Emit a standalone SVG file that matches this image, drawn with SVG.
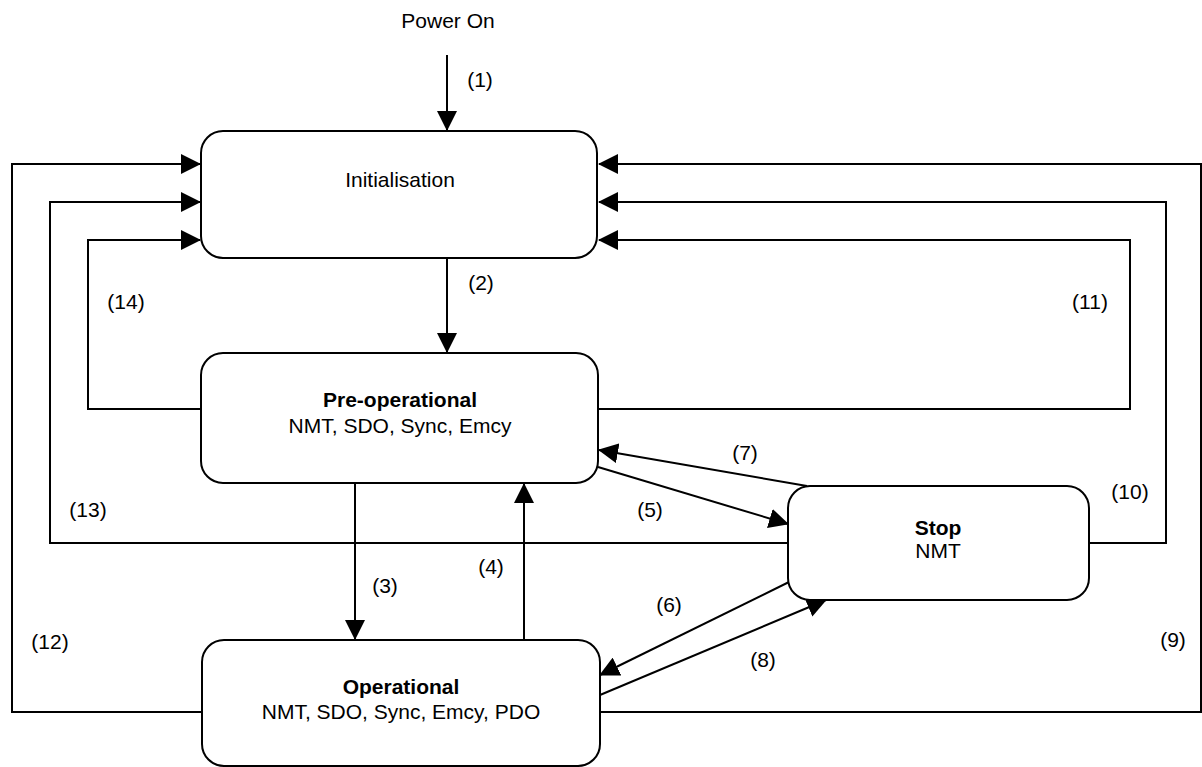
<svg xmlns="http://www.w3.org/2000/svg" width="1202" height="767" viewBox="0 0 1202 767">
<style>
.box{fill:#fff;stroke:#000;stroke-width:2}
.c{fill:none;stroke:#000;stroke-width:2}
text{font-family:"Liberation Sans",Arial,sans-serif;font-size:21px;fill:#000;text-anchor:middle}
.b{font-weight:bold}
</style>
<defs>
<marker id="a" markerUnits="userSpaceOnUse" markerWidth="20" markerHeight="20" viewBox="0 0 20 20" refX="19" refY="10" orient="auto">
<path d="M0,0 L20,10 L0,20 Z" fill="#000"/>
</marker>
</defs>
<rect width="1202" height="767" fill="#fff"/>
<g id="connectors">
<line class="c" x1="447" y1="55" x2="447" y2="130" marker-end="url(#a)"/>
<line class="c" x1="447" y1="258" x2="447" y2="352" marker-end="url(#a)"/>
<line class="c" x1="355" y1="483" x2="355" y2="639" marker-end="url(#a)"/>
<line class="c" x1="524" y1="640" x2="524" y2="484" marker-end="url(#a)"/>
<line class="c" x1="598" y1="467" x2="788" y2="524" marker-end="url(#a)"/>
<line class="c" x1="807" y1="486" x2="599" y2="450" marker-end="url(#a)"/>
<line class="c" x1="789" y1="582" x2="600" y2="675" marker-end="url(#a)"/>
<line class="c" x1="600" y1="695" x2="826" y2="600" marker-end="url(#a)"/>
<polyline class="c" points="202,409 88,409 88,240 200,240" marker-end="url(#a)"/>
<polyline class="c" points="789,543 50,543 50,202 200,202" marker-end="url(#a)"/>
<polyline class="c" points="202,712 12,712 12,164 200,164" marker-end="url(#a)"/>
<polyline class="c" points="598,409 1130,409 1130,240 599,240" marker-end="url(#a)"/>
<polyline class="c" points="1089,543 1166,543 1166,202 599,202" marker-end="url(#a)"/>
<polyline class="c" points="600,712 1201,712 1201,164 599,164" marker-end="url(#a)"/>
<text x="480" y="87">(1)</text>
<text x="481" y="290">(2)</text>
<text x="385" y="593">(3)</text>
<text x="491" y="574">(4)</text>
<text x="650" y="517">(5)</text>
<text x="669" y="612">(6)</text>
<text x="745" y="460">(7)</text>
<text x="763" y="667">(8)</text>
<text x="1173" y="647">(9)</text>
<text x="1130" y="499">(10)</text>
<text x="1090" y="309">(11)</text>
<text x="50" y="649">(12)</text>
<text x="88" y="517">(13)</text>
<text x="126" y="309">(14)</text>
</g>
<g id="power-on"><text x="448" y="28">Power On</text></g>
<g id="initialisation">
<rect class="box" x="201" y="131" width="396" height="127" rx="22"/>
<text x="400" y="187">Initialisation</text>
</g>
<g id="pre-operational">
<rect class="box" x="201" y="353" width="397" height="130" rx="22"/>
<text class="b" x="400" y="407">Pre-operational</text>
<text x="400" y="433">NMT, SDO, Sync, Emcy</text>
</g>
<g id="stop">
<rect class="box" x="788" y="486" width="301" height="114" rx="22"/>
<text class="b" x="938" y="535">Stop</text>
<text x="938" y="558">NMT</text>
</g>
<g id="operational">
<rect class="box" x="202" y="640" width="398" height="126" rx="22"/>
<text class="b" x="401" y="694">Operational</text>
<text x="401" y="719">NMT, SDO, Sync, Emcy, PDO</text>
</g>
</svg>
